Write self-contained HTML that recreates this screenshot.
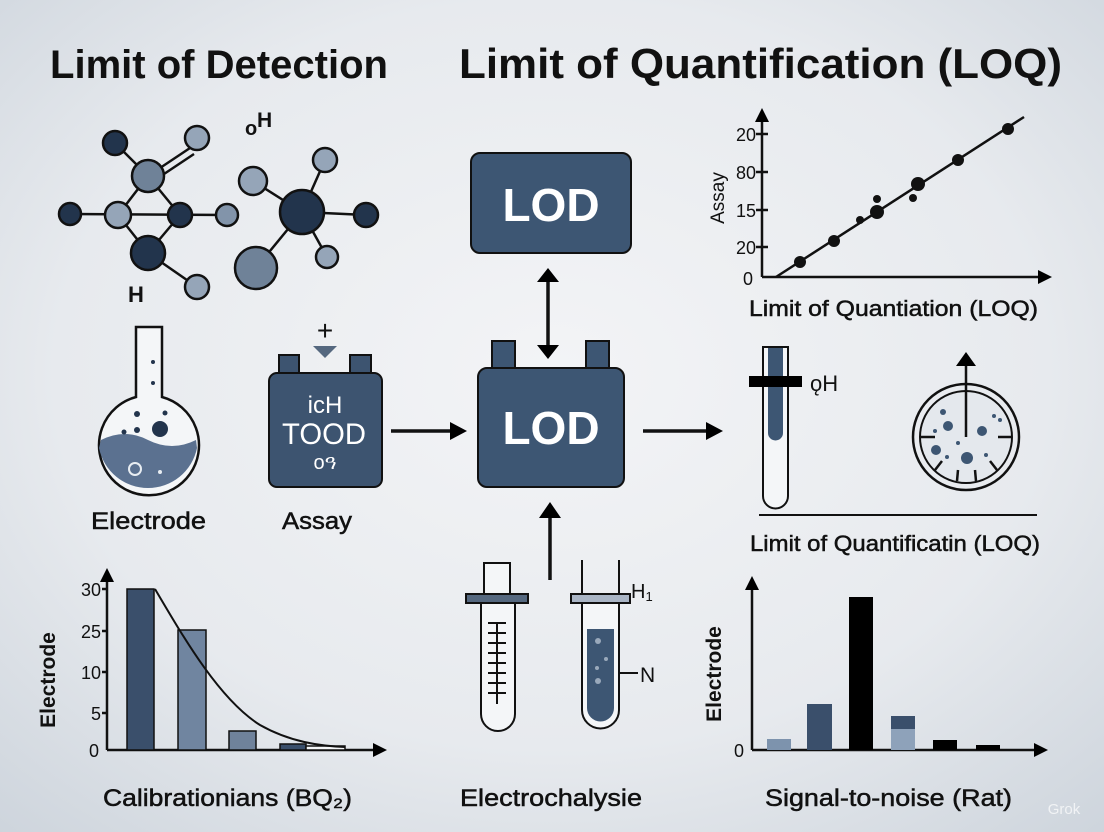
<!DOCTYPE html>
<html><head><meta charset="utf-8"><style>
html,body{margin:0;padding:0;width:1104px;height:832px;overflow:hidden}
svg{display:block}
text{font-family:"Liberation Sans",sans-serif}
.lb{stroke:#111;stroke-width:0.5}
</style></head><body>
<svg width="1104" height="832" viewBox="0 0 1104 832" xmlns="http://www.w3.org/2000/svg">
<defs>
<radialGradient id="bg" cx="50%" cy="45%" r="75%">
<stop offset="0" stop-color="#f3f4f6"/><stop offset="0.6" stop-color="#e7eaee"/><stop offset="1" stop-color="#cdd4dc"/>
</radialGradient>
</defs>
<rect width="1104" height="832" fill="url(#bg)"/>
<text x="50" y="78" font-size="40" font-weight="bold" fill="#111" textLength="338" lengthAdjust="spacingAndGlyphs">Limit of Detection</text>
<text x="459" y="78" font-size="42" font-weight="bold" fill="#111" textLength="603" lengthAdjust="spacingAndGlyphs">Limit of Quantification (LOQ)</text>

<!-- molecule 1 -->
<g stroke="#111" stroke-width="2.5" fill="none">
<line x1="115" y1="143" x2="148" y2="176"/>
<line x1="160" y1="168" x2="190" y2="148"/><line x1="164" y1="174" x2="194" y2="154"/>
<line x1="148" y1="176" x2="118" y2="215"/><line x1="148" y1="176" x2="180" y2="215"/>
<line x1="70" y1="214" x2="227" y2="215"/>
<line x1="118" y1="215" x2="148" y2="253"/><line x1="180" y1="215" x2="148" y2="253"/>
<line x1="148" y1="253" x2="197" y2="287"/>
<line x1="253" y1="181" x2="302" y2="212"/><line x1="325" y1="160" x2="302" y2="212"/>
<line x1="302" y1="212" x2="366" y2="215"/><line x1="302" y1="212" x2="256" y2="268"/><line x1="302" y1="212" x2="327" y2="257"/>
</g>
<g stroke="#111" stroke-width="2.5">
<circle cx="115" cy="143" r="12" fill="#22344c"/>
<circle cx="197" cy="138" r="12" fill="#95a5b8"/>
<circle cx="148" cy="176" r="16" fill="#6f8298"/>
<circle cx="70" cy="214" r="11" fill="#22344c"/>
<circle cx="118" cy="215" r="13" fill="#95a5b8"/>
<circle cx="180" cy="215" r="12" fill="#22344c"/>
<circle cx="227" cy="215" r="11" fill="#8294aa"/>
<circle cx="148" cy="253" r="17" fill="#22344c"/>
<circle cx="197" cy="287" r="12" fill="#95a5b8"/>
<circle cx="253" cy="181" r="14" fill="#95a5b8"/>
<circle cx="325" cy="160" r="12" fill="#95a5b8"/>
<circle cx="302" cy="212" r="22" fill="#22344c"/>
<circle cx="366" cy="215" r="12" fill="#22344c"/>
<circle cx="256" cy="268" r="21" fill="#6f8298"/>
<circle cx="327" cy="257" r="11" fill="#95a5b8"/>
</g>
<text x="128" y="302" font-size="22" font-weight="bold" fill="#111">H</text>
<text x="245" y="135" font-size="20" font-weight="bold" fill="#111">o</text><text x="257" y="127" font-size="21" font-weight="bold" fill="#111">H</text>

<!-- flask -->
<path d="M136,327 L162,327 L162,397 A50,50 0 1 1 136,397 Z" fill="#f4f6f8" stroke="#111" stroke-width="2.5"/>
<path d="M101,440 Q125,428 148,440 Q172,452 196,440 L197,448 A50,50 0 0 1 99,448 Z" fill="#5b7190"/>
<circle cx="160" cy="429" r="8" fill="#22344c"/>
<circle cx="137" cy="414" r="3" fill="#22344c"/><circle cx="165" cy="413" r="2.5" fill="#22344c"/><circle cx="137" cy="430" r="3" fill="#22344c"/><circle cx="124" cy="432" r="2.5" fill="#22344c"/><circle cx="153" cy="383" r="2" fill="#22344c"/><circle cx="153" cy="362" r="2" fill="#22344c"/>
<circle cx="135" cy="469" r="6" fill="none" stroke="#e8edf2" stroke-width="2"/><circle cx="160" cy="472" r="2" fill="#e8edf2"/>
<text class="lb" x="91" y="529" font-size="24" fill="#111" textLength="115" lengthAdjust="spacingAndGlyphs">Electrode</text>

<!-- battery -->
<text x="325" y="340" font-size="28" text-anchor="middle" fill="#111">+</text>
<path d="M313,346 L337,346 L325,358Z" fill="#55687f"/>
<rect x="279" y="355" width="20" height="20" fill="#3d5470" stroke="#111" stroke-width="2"/>
<rect x="350" y="355" width="21" height="20" fill="#3d5470" stroke="#111" stroke-width="2"/>
<rect x="269" y="373" width="113" height="114" rx="8" fill="#3d5470" stroke="#111" stroke-width="2"/>
<text x="325" y="413" font-size="24" text-anchor="middle" fill="#fff">icH</text>
<text x="324" y="444" font-size="30" text-anchor="middle" fill="#fff" textLength="84" lengthAdjust="spacingAndGlyphs">TOOD</text>
<text x="325" y="469" font-size="20" text-anchor="middle" fill="#fff">oዓ</text>
<text class="lb" x="282" y="529" font-size="24" fill="#111" textLength="70" lengthAdjust="spacingAndGlyphs">Assay</text>

<!-- LOD boxes -->
<rect x="471" y="153" width="160" height="100" rx="9" fill="#3d5673" stroke="#111" stroke-width="2"/>
<text x="551" y="221" font-size="46" font-weight="bold" text-anchor="middle" fill="#fff">LOD</text>
<rect x="492" y="341" width="23" height="28" fill="#3d5673" stroke="#111" stroke-width="2"/>
<rect x="586" y="341" width="23" height="28" fill="#3d5673" stroke="#111" stroke-width="2"/>
<rect x="478" y="368" width="146" height="119" rx="9" fill="#3d5673" stroke="#111" stroke-width="2"/>
<text x="551" y="444" font-size="46" font-weight="bold" text-anchor="middle" fill="#fff">LOD</text>
<g stroke="#111" stroke-width="3.5">
<line x1="548" y1="282" x2="548" y2="345"/>
<line x1="391" y1="431" x2="452" y2="431"/>
<line x1="643" y1="431" x2="708" y2="431"/>
<line x1="550" y1="580" x2="550" y2="518"/>
</g>
<path d="M537,282 L548,268 L559,282Z M537,345 L548,359 L559,345Z M450,422 L467,431 L450,440Z M706,422 L723,431 L706,440Z M539,518 L550,502 L561,518Z" fill="#000"/>

<!-- scatter chart -->
<g stroke="#111" stroke-width="2.5" fill="none">
<line x1="762" y1="277" x2="1040" y2="277"/><line x1="762" y1="277" x2="762" y2="120"/>
<line x1="756" y1="134" x2="768" y2="134"/><line x1="756" y1="172" x2="768" y2="172"/><line x1="756" y1="210" x2="768" y2="210"/><line x1="756" y1="247" x2="768" y2="247"/>
<line x1="776" y1="277" x2="1024" y2="117"/>
</g>
<path d="M1038,270 L1052,277 L1038,284Z M755,122 L762,108 L769,122Z" fill="#000"/>
<g font-size="18" fill="#111" text-anchor="end"><text x="756" y="141">20</text><text x="756" y="179">80</text><text x="756" y="217">15</text><text x="756" y="254">20</text><text x="753" y="285">0</text></g>
<text transform="translate(724,198) rotate(-90)" font-size="19" text-anchor="middle" fill="#111">Assay</text>
<g fill="#111"><circle cx="800" cy="262" r="6"/><circle cx="834" cy="241" r="6"/><circle cx="860" cy="220" r="4"/><circle cx="877" cy="199" r="4"/><circle cx="877" cy="212" r="7"/><circle cx="918" cy="184" r="7"/><circle cx="913" cy="198" r="4"/><circle cx="958" cy="160" r="6"/><circle cx="1008" cy="129" r="6"/></g>
<text class="lb" x="749" y="316" font-size="22" fill="#111" textLength="289" lengthAdjust="spacingAndGlyphs">Limit of Quantiation (LOQ)</text>

<!-- test tube & dish -->
<path d="M763,347 L788,347 L788,496 A12.5,12.5 0 0 1 763,496 Z" fill="#f4f6f8" stroke="#111" stroke-width="2"/>
<path d="M768,348 L783,348 L783,433 A7.5,7.5 0 0 1 768,433 Z" fill="#3d5673"/>
<rect x="749" y="376" width="53" height="11" fill="#000"/>
<text x="810" y="391" font-size="22" fill="#111">ǫH</text>
<circle cx="966" cy="437" r="53" fill="none" stroke="#111" stroke-width="2.5"/>
<circle cx="966" cy="437" r="46" fill="#e4e8ed" stroke="#111" stroke-width="2"/>
<g stroke="#111" stroke-width="2.5"><line x1="966" y1="437" x2="966" y2="365"/><line x1="920" y1="437" x2="935" y2="437"/><line x1="998" y1="437" x2="1012" y2="437"/><line x1="935" y1="470" x2="942" y2="461"/><line x1="957" y1="481" x2="958" y2="470"/><line x1="976" y1="481" x2="975" y2="470"/><line x1="997" y1="470" x2="990" y2="461"/></g>
<path d="M956,366 L966,352 L976,366Z" fill="#000"/>
<g fill="#3d5673"><circle cx="948" cy="426" r="5"/><circle cx="982" cy="431" r="5"/><circle cx="936" cy="450" r="5"/><circle cx="967" cy="458" r="6"/><circle cx="943" cy="412" r="3"/><circle cx="935" cy="431" r="2"/><circle cx="958" cy="443" r="2"/><circle cx="994" cy="416" r="2"/><circle cx="1000" cy="420" r="2"/><circle cx="986" cy="455" r="2"/><circle cx="947" cy="457" r="2"/></g>
<line x1="759" y1="515" x2="1037" y2="515" stroke="#111" stroke-width="2"/>
<text class="lb" x="750" y="551" font-size="22" fill="#111" textLength="290" lengthAdjust="spacingAndGlyphs">Limit of Quantificatin (LOQ)</text>

<!-- bottom-left chart -->
<g stroke="#111" stroke-width="2.5" fill="none"><line x1="107" y1="750" x2="375" y2="750"/><line x1="107" y1="750" x2="107" y2="580"/>
<line x1="102" y1="589" x2="107" y2="589"/><line x1="102" y1="631" x2="107" y2="631"/><line x1="102" y1="672" x2="107" y2="672"/><line x1="102" y1="713" x2="107" y2="713"/></g>
<path d="M373,743 L387,750 L373,757Z M100,582 L107,568 L114,582Z" fill="#000"/>
<g font-size="18" fill="#111" text-anchor="end"><text x="101" y="596">30</text><text x="101" y="638">25</text><text x="101" y="679">10</text><text x="101" y="720">5</text><text x="99" y="757">0</text></g>
<text transform="translate(55,680) rotate(-90)" font-size="21" font-weight="bold" text-anchor="middle" fill="#111">Electrode</text>
<g stroke="#111" stroke-width="1.5"><rect x="127" y="589" width="27" height="161" fill="#3a4f6b"/><rect x="178" y="630" width="28" height="120" fill="#7085a0"/><rect x="229" y="731" width="27" height="19" fill="#6f829b"/><rect x="280" y="744" width="26" height="6" fill="#3a4f6b"/><rect x="306" y="746" width="39" height="4" fill="#f4f6f8"/></g>
<path d="M155,589 C185,640 220,700 260,725 C290,742 320,746 345,747" fill="none" stroke="#111" stroke-width="2"/>
<text class="lb" x="103" y="806" font-size="24" fill="#111" textLength="249" lengthAdjust="spacingAndGlyphs">Calibrationians (BQ₂)</text>

<!-- middle tubes -->
<g stroke="#111" stroke-width="2">
<rect x="484" y="563" width="26" height="31" fill="#f4f6f8"/>
<path d="M481,603 L515,603 L515,714 A17,17 0 0 1 481,714 Z" fill="#f4f6f8"/>
<rect x="466" y="594" width="62" height="9" fill="#55687f"/>
<path d="M582,560 L582,603 L619,603 L619,560" fill="none"/>
<path d="M582,603 L619,603 L619,710 A18.5,18.5 0 0 1 582,710 Z" fill="#f4f6f8"/>
<path d="M587,629 L614,629 L614,708 A13.5,13.5 0 0 1 587,708 Z" fill="#3d5673" stroke="none"/>
<rect x="571" y="594" width="59" height="9" fill="#aab5c5"/>
<line x1="497" y1="622" x2="497" y2="704"/>
<line x1="619" y1="673" x2="638" y2="673"/>
</g>
<g stroke="#111" stroke-width="2"><line x1="488" y1="623" x2="506" y2="623"/><line x1="488" y1="633" x2="506" y2="633"/><line x1="488" y1="643" x2="506" y2="643"/><line x1="488" y1="653" x2="506" y2="653"/><line x1="488" y1="663" x2="506" y2="663"/><line x1="488" y1="673" x2="506" y2="673"/><line x1="488" y1="683" x2="506" y2="683"/><line x1="488" y1="693" x2="506" y2="693"/></g>
<g fill="#9aa9bb"><circle cx="598" cy="641" r="3"/><circle cx="606" cy="659" r="2"/><circle cx="597" cy="668" r="2"/><circle cx="598" cy="681" r="3"/></g>
<text x="631" y="598" font-size="20" fill="#111">H<tspan font-size="13" dy="3">1</tspan></text>
<text x="640" y="682" font-size="21" fill="#111">N</text>
<text class="lb" x="460" y="806" font-size="24" fill="#111" textLength="182" lengthAdjust="spacingAndGlyphs">Electrochalysie</text>

<!-- bottom-right chart -->
<g stroke="#111" stroke-width="2.5" fill="none"><line x1="752" y1="750" x2="1036" y2="750"/><line x1="752" y1="750" x2="752" y2="590"/></g>
<path d="M1034,743 L1048,750 L1034,757Z M745,590 L752,576 L759,590Z" fill="#000"/>
<text x="744" y="757" font-size="18" text-anchor="end" fill="#111">0</text>
<text transform="translate(721,674) rotate(-90)" font-size="21" font-weight="bold" text-anchor="middle" fill="#111">Electrode</text>
<rect x="767" y="739" width="24" height="11" fill="#7d93ad"/>
<rect x="807" y="704" width="25" height="46" fill="#3a4f6b"/>
<rect x="849" y="597" width="24" height="153" fill="#000"/>
<rect x="891" y="716" width="24" height="34" fill="#8ea2ba"/><rect x="891" y="716" width="24" height="13" fill="#3a4f6b"/>
<rect x="933" y="740" width="24" height="10" fill="#000"/>
<rect x="976" y="745" width="24" height="5" fill="#000"/>
<text class="lb" x="765" y="806" font-size="24" fill="#111" textLength="247" lengthAdjust="spacingAndGlyphs">Signal-to-noise (Rat)</text>
<text x="1064" y="814" font-size="15" text-anchor="middle" fill="#fff" opacity="0.7">Grok</text>
</svg>
</body></html>
